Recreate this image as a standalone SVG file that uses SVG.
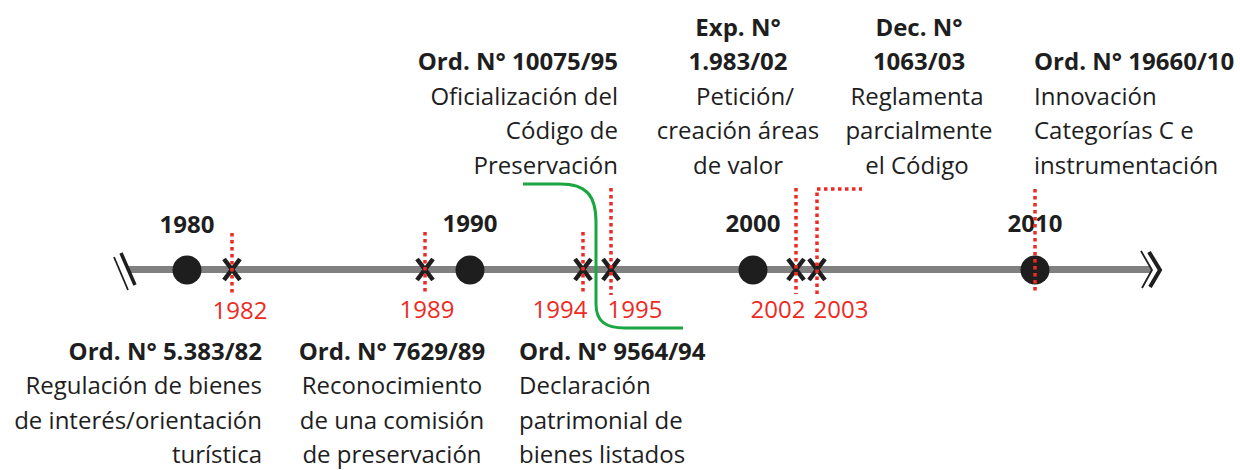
<svg xmlns="http://www.w3.org/2000/svg" width="1240" height="470" viewBox="0 0 1240 470">
<style>
text{font-family:"Open Sans","DejaVu Sans",sans-serif;font-size:24px;fill:#1e1e1e}
.b{font-weight:bold}
.r{fill:#ee2a24}
.mid{text-anchor:middle}
.end{text-anchor:end}
.red{stroke:#ee2a24;stroke-width:3.5;stroke-dasharray:3.5 3.5;fill:none}
.x{stroke:#1e1e1e;stroke-width:4.5;stroke-linecap:butt}
</style>
<rect width="1240" height="470" fill="#ffffff"/>
<g id="connectors">
<line x1="128" y1="269.5" x2="1151" y2="269.5" stroke="#808080" stroke-width="7"/>
<line x1="114" y1="257" x2="128" y2="290" stroke="#1e1e1e" stroke-width="1.8"/>
<line x1="121" y1="253" x2="135" y2="285" stroke="#1e1e1e" stroke-width="3.5"/>
<polyline points="1141,251 1152,270 1142,288" fill="none" stroke="#1e1e1e" stroke-width="1.8"/>
<polyline points="1149,252 1160,270 1150,287" fill="none" stroke="#1e1e1e" stroke-width="4"/>
<path d="M523,184 L560,184 C586,184 596,195 596,222 L596,304 C596,321 605,328 625,328 L683,328" fill="none" stroke="#1aa640" stroke-width="3"/>
</g>
<g id="decades">
<circle cx="187" cy="270" r="14.5" fill="#1e1e1e"/>
<circle cx="470" cy="270" r="14.5" fill="#1e1e1e"/>
<circle cx="753" cy="270" r="14.5" fill="#1e1e1e"/>
<circle cx="1035" cy="270" r="14.5" fill="#1e1e1e"/>
<text class="b mid" x="187" y="233">1980</text>
<text class="b mid" x="470" y="232">1990</text>
<text class="b mid" x="753" y="232">2000</text>
<text class="b mid" x="1035" y="232">2010</text>
</g>
<g id="marks">
<path class="x" d="M224,259 L240,280 M240,259 L224,280"/>
<path class="x" d="M417,259 L433,280 M433,259 L417,280"/>
<path class="x" d="M575,259 L591,280 M591,259 L575,280"/>
<path class="x" d="M603,259 L619,280 M619,259 L603,280"/>
<path class="x" d="M788,259 L804,280 M804,259 L788,280"/>
<path class="x" d="M809,259 L825,280 M825,259 L809,280"/>
<line class="red" x1="232" y1="233" x2="232" y2="296"/>
<line class="red" x1="425" y1="232" x2="425" y2="295"/>
<line class="red" x1="583" y1="232" x2="583" y2="295"/>
<line class="red" x1="611" y1="188" x2="611" y2="295"/>
<line class="red" x1="796" y1="188" x2="796" y2="294"/>
<polyline class="red" points="817,294 817,189 862,189"/>
<line class="red" x1="1035" y1="189" x2="1035" y2="294"/>
<text class="r mid" x="240" y="319">1982</text>
<text class="r mid" x="427" y="318">1989</text>
<text class="r mid" x="560" y="318">1994</text>
<text class="r mid" x="635" y="318">1995</text>
<text class="r mid" x="778" y="318">2002</text>
<text class="r mid" x="841" y="318">2003</text>
</g>
<g id="ord10075">
<text class="b end" x="618" y="70">Ord. N° 10075/95</text>
<text class="end" x="618" y="105">Oficialización del</text>
<text class="end" x="618" y="139">Código de</text>
<text class="end" x="618" y="174">Preservación</text>
</g>
<g id="exp1983">
<text class="b mid" x="738" y="36">Exp. N°</text>
<text class="b mid" x="738" y="70">1.983/02</text>
<text class="mid" x="745" y="105">Petición/</text>
<text class="mid" x="738" y="139">creación áreas</text>
<text class="mid" x="738" y="174">de valor</text>
</g>
<g id="dec1063">
<text class="b mid" x="919" y="36">Dec. N°</text>
<text class="b mid" x="919" y="70">1063/03</text>
<text class="mid" x="917" y="105">Reglamenta</text>
<text class="mid" x="919" y="139">parcialmente</text>
<text class="mid" x="917" y="174">el Código</text>
</g>
<g id="ord19660">
<text class="b" x="1034" y="70">Ord. N° 19660/10</text>
<text x="1034" y="105">Innovación</text>
<text x="1034" y="139">Categorías C e</text>
<text x="1034" y="174">instrumentación</text>
</g>
<g id="ord5383">
<text class="b end" x="262" y="360">Ord. N° 5.383/82</text>
<text class="end" x="262" y="394">Regulación de bienes</text>
<text class="end" x="262" y="429">de interés/orientación</text>
<text class="end" x="262" y="463">turística</text>
</g>
<g id="ord7629">
<text class="b mid" x="392" y="360">Ord. N° 7629/89</text>
<text class="mid" x="392" y="394">Reconocimiento</text>
<text class="mid" x="392" y="429">de una comisión</text>
<text class="mid" x="392" y="463">de preservación</text>
</g>
<g id="ord9564">
<text class="b" x="519" y="360">Ord. N° 9564/94</text>
<text x="519" y="394">Declaración</text>
<text x="519" y="429">patrimonial de</text>
<text x="519" y="463">bienes listados</text>
</g>
</svg>
